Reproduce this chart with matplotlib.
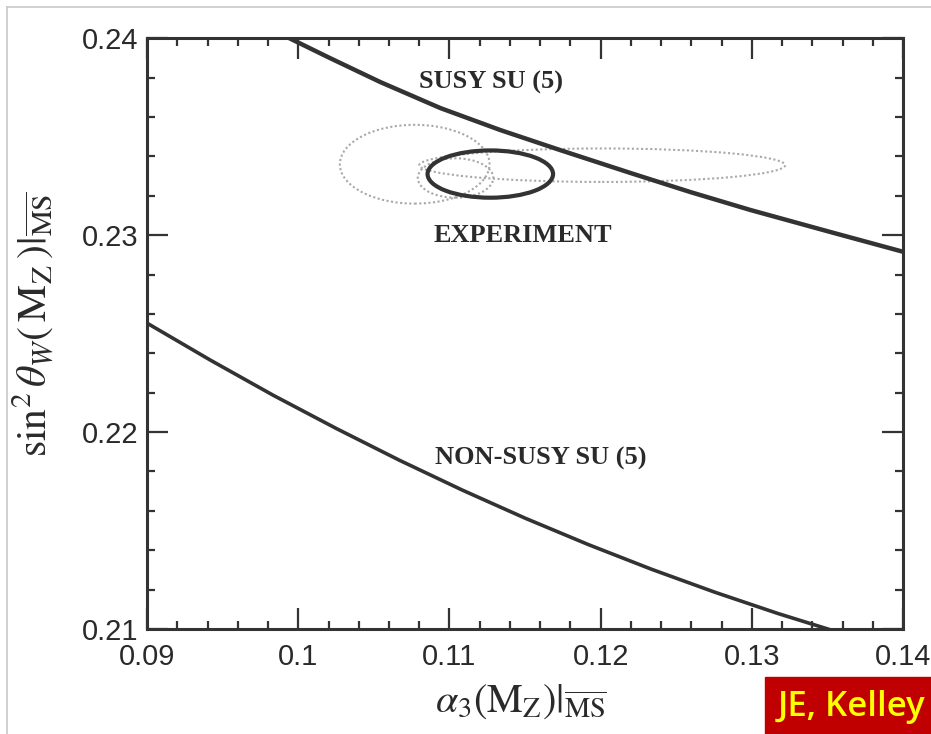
import matplotlib
matplotlib.use("Agg")
import matplotlib.pyplot as plt
from matplotlib.patches import Ellipse, Rectangle
from matplotlib.lines import Line2D
from matplotlib.ticker import MultipleLocator, FuncFormatter

# curves
susy_a3 = [0.09914, 0.10212, 0.10543, 0.10940, 0.11338, 0.11735,
           0.12199, 0.12596, 0.12993, 0.13523, 0.14007]
susy_s2w = [0.24010, 0.23898, 0.23777, 0.23645, 0.23533, 0.23431,
            0.23315, 0.23218, 0.23127, 0.23015, 0.22914]

nonsusy_a3 = [0.09000, 0.09417, 0.09834, 0.10252, 0.10669, 0.11086,
              0.11503, 0.11921, 0.12338, 0.12755, 0.13172, 0.13503, 0.13636]
nonsusy_s2w = [0.22553, 0.22366, 0.22187, 0.22018, 0.21857, 0.21705,
               0.21562, 0.21428, 0.21303, 0.21187, 0.21079, 0.21000, 0.20970]

# experimental contours (centre a3, centre s2w, width, height)
exp_solid = (0.1127, 0.2331, 0.0083, 0.0024)
exp_dotted = [
    (0.1077, 0.2336, 0.0099, 0.0040),
    (0.1201, 0.23355, 0.0242, 0.0017),
    (0.1104, 0.2329, 0.0050, 0.0020),
]

xticks = [0.09, 0.10, 0.11, 0.12, 0.13, 0.14]
yticks = [0.21, 0.22, 0.23, 0.24]

ink = "#333333"
plt.rcParams["mathtext.fontset"] = "stix"

fig = plt.figure(figsize=(9.31, 7.34), dpi=100)
ax = fig.add_axes([0.158, 0.143, 0.812, 0.805])

ax.plot(susy_a3, susy_s2w, color=ink, lw=3.2, solid_capstyle="butt")
ax.plot(nonsusy_a3, nonsusy_s2w, color=ink, lw=2.6, solid_capstyle="butt")

for cx, cy, w, h in exp_dotted:
    ax.add_patch(Ellipse((cx, cy), w, h, fill=False, ec="#a8a8a8",
                         lw=1.5, ls=(0, (1, 1.2))))
cx, cy, w, h = exp_solid
ax.add_patch(Ellipse((cx, cy), w, h, fill=False, ec=ink, lw=3.0))

ax.set_xlim(0.09, 0.14)
ax.set_ylim(0.21, 0.24)
ax.set_xticks(xticks)
ax.set_yticks(yticks)
ax.xaxis.set_minor_locator(MultipleLocator(0.002))
ax.yaxis.set_minor_locator(MultipleLocator(0.002))
ax.xaxis.set_major_formatter(FuncFormatter(lambda v, p: f"{v:g}"))
ax.yaxis.set_major_formatter(FuncFormatter(lambda v, p: f"{v:g}"))
ax.tick_params(which="both", direction="in", top=True, right=True,
               colors=ink, labelcolor="#2a2a2a")
ax.tick_params(which="major", length=15, width=1.6, labelsize=21, pad=6)
ax.tick_params(axis="x", which="major", pad=10)
ax.tick_params(which="minor", length=6, width=1.6)
for lab in ax.get_xticklabels() + ax.get_yticklabels():
    lab.set_family("Liberation Sans")
for s in ax.spines.values():
    s.set_linewidth(2.2)
    s.set_color(ink)

tfont = dict(family="Liberation Serif", fontsize=19, color="#2a2a2a",
             ha="center", va="center", fontweight="bold")
ax.text(0.11272, 0.23777, "SUSY SU (5)", **tfont)
ax.text(0.11483, 0.23000, "EXPERIMENT", **tfont)
ax.text(0.11603, 0.21868, "NON-SUSY SU (5)", **tfont)

ax.set_xlabel(r"$\alpha_3(\mathrm{M_Z})|_{\overline{\rm MS}}$", fontsize=29,
              color="#2a2a2a")
ax.set_ylabel(r"$\sin^2\theta_W(\,\mathrm{M_Z}\,)|_{\overline{\rm MS}}$",
              fontsize=30, color="#2a2a2a")
ax.xaxis.set_label_coords(0.494, -0.088)
ax.yaxis.set_label_coords(-0.12, 0.515)

# thin frame of the slide picture
fig.add_artist(Line2D([7 / 931, 1], [1 - 7 / 734, 1 - 7 / 734],
                      transform=fig.transFigure, color="#c8c8c8", lw=1.2))
fig.add_artist(Line2D([7 / 931, 7 / 931], [0, 1 - 7 / 734],
                      transform=fig.transFigure, color="#c8c8c8", lw=1.2))

# credit box
fig.add_artist(Rectangle((765 / 931, 0), 1 - 765 / 931, 57 / 734,
                         transform=fig.transFigure, color="#c00000", zorder=5))
fig.text(778 / 931, 18 / 734, "JE, Kelley", color="#ffff00", fontsize=25,
         family="Open Sans", fontweight="semibold", va="baseline", ha="left",
         zorder=6)

fig.savefig("out.png", dpi=100)
